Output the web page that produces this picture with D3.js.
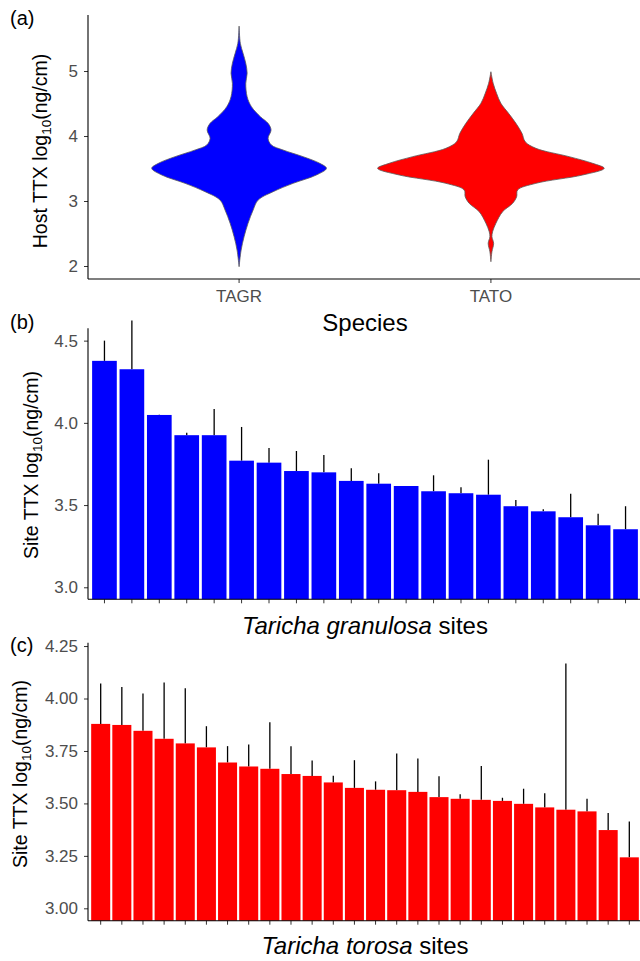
<!DOCTYPE html>
<html>
<head>
<meta charset="utf-8">
<script src="https://cdn.jsdelivr.net/npm/d3@7"></script>
<style>
body { margin: 0; background: #fff; }
svg { display: block; font-family: "Liberation Sans", Arial, Helvetica, sans-serif; }
.tick_label { fill: #4d4d4d; font-size: 17px; font-family: "Liberation Sans", Arial, Helvetica, sans-serif; }
.axis_title { fill: #000; font-size: 24px; }
.y_title { fill: #000; font-size: 19.5px; }
.panel_tag { fill: #000; font-size: 20px; }
</style>
</head>
<body>
<div id="canvas"></div>
<script>
// ----------------------------------------------------------
// DATA -----------------------------------------------------
// ----------------------------------------------------------
// (a) violin outlines: log10 TTX value and relative density
var species = ["TAGR", "TATO"];
var tagr_ttx = [5.692, 5.426, 5.272, 5.118, 4.965, 4.811, 4.605, 4.451, 4.297, 4.195, 4.092, 3.965, 3.862,
  3.785, 3.682, 3.580, 3.503, 3.400, 3.272, 3.143, 3.015, 2.862, 2.657, 2.451, 2.246, 1.989];
var tagr_density = [0, 0.011, 0.035, 0.059, 0.071, 0.059, 0.071, 0.109, 0.188, 0.256, 0.282, 0.256, 0.285,
  0.388, 0.565, 0.712, 0.771, 0.682, 0.477, 0.300, 0.168, 0.124, 0.079, 0.044, 0.018, 0];
var tato_ttx = [4.989, 4.811, 4.657, 4.503, 4.349, 4.195, 4.042, 3.912, 3.811, 3.682, 3.580, 3.503, 3.400,
  3.272, 3.169, 3.066, 2.965, 2.835, 2.657, 2.528, 2.451, 2.349, 2.220, 2.066];
var tato_density = [0, 0.020, 0.050, 0.088, 0.156, 0.221, 0.274, 0.303, 0.397, 0.691, 0.898, 1.0, 0.809,
  0.397, 0.236, 0.227, 0.192, 0.103, 0.044, 0.015, 0.009, 0.024, 0.009, 0];

// (b) Taricha granulosa sites: mean and upper error
var tagr_site_mean = [4.377, 4.326, 4.048, 3.925, 3.925, 3.770, 3.758, 3.707, 3.699, 3.647,
  3.630, 3.616, 3.584, 3.572, 3.563, 3.493, 3.462, 3.426, 3.377, 3.353];
var tagr_site_upper = [4.500, 4.622, 4.050, 3.940, 4.085, 3.975, 3.847, 3.829, 3.805, 3.724,
  3.693, 3.616, 3.681, 3.608, 3.776, 3.531, 3.474, 3.569, 3.448, 3.493];

// (c) Taricha torosa sites: mean and upper error
var tato_site_mean = [3.879, 3.874, 3.846, 3.808, 3.786, 3.767, 3.695, 3.676, 3.665, 3.640,
  3.631, 3.600, 3.574, 3.565, 3.563, 3.555, 3.530, 3.522, 3.517, 3.512,
  3.498, 3.481, 3.470, 3.462, 3.373, 3.243];
var tato_site_upper = [4.071, 4.055, 4.024, 4.076, 4.049, 3.868, 3.773, 3.781, 3.887, 3.773,
  3.705, 3.632, 3.706, 3.605, 3.738, 3.714, 3.629, 3.544, 3.678, 3.527,
  3.570, 3.548, 4.167, 3.522, 3.454, 3.414];

// tick labels
var ticks_a = [2, 3, 4, 5];
var ticks_b = [3.0, 3.5, 4.0, 4.5];
var ticks_c = [3.00, 3.25, 3.50, 3.75, 4.00, 4.25];

// ----------------------------------------------------------
// SETTINGS -------------------------------------------------
// ----------------------------------------------------------
var settings = {
  width: 640,
  height: 961,
  left: 88,
  right: 642,
  color_tagr: "#0000ff",
  color_tato: "#ff0000",
  color_axis: "#000000",
  color_tick: "#333333",
  color_outline: "#5a5a5a"
};

var svg = d3.select("#canvas").append("svg")
.attr("width", settings.width)
.attr("height", settings.height);

// ----------------------------------------------------------
// HELPERS --------------------------------------------------
// ----------------------------------------------------------
function drawYAxis(g, y, ticks, fmt) {
  var axis = d3.axisLeft(y).tickValues(ticks).tickSize(4).tickPadding(6).tickFormat(fmt);
  var ax = g.append("g").attr("transform", "translate(" + settings.left + ",0)").call(axis)
  .attr("font-family", null).attr("font-size", null);
  ax.select(".domain").remove();
  ax.selectAll(".tick line").attr("stroke", settings.color_tick).attr("stroke-width", 1);
  ax.selectAll(".tick text").attr("class", "tick_label");
  var r = y.range();
  g.append("line")
  .attr("x1", settings.left).attr("x2", settings.left)
  .attr("y1", r[0]).attr("y2", r[1])
  .attr("stroke", settings.color_axis).attr("stroke-width", 1.1);
}

function drawXAxis(g, x, yPos, showLabels) {
  var axis = d3.axisBottom(x).tickSize(4).tickPadding(7);
  if (!showLabels) axis.tickFormat("");
  var ax = g.append("g").attr("transform", "translate(0," + yPos + ")").call(axis)
  .attr("font-family", null).attr("font-size", null);
  ax.select(".domain").remove();
  ax.selectAll(".tick line").attr("stroke", settings.color_tick).attr("stroke-width", 1);
  ax.selectAll(".tick text").attr("class", "tick_label");
  g.append("line")
  .attr("x1", settings.left).attr("x2", settings.right)
  .attr("y1", yPos).attr("y2", yPos)
  .attr("stroke", settings.color_axis).attr("stroke-width", 1.1);
}

function yTitle(g, lead, xBase, yMid) {
  var t = g.append("text")
  .attr("class", "y_title")
  .attr("text-anchor", "middle")
  .attr("transform", "translate(" + xBase + "," + yMid + ") rotate(-90)");
  t.append("tspan").text(lead + " log");
  t.append("tspan").attr("font-size", "13.5px").attr("dy", 4).text("10");
  t.append("tspan").attr("dy", -4).text("(ng/cm)");
}

function bandScale(domain) {
  return d3.scaleBand().domain(domain)
  .range([settings.left, settings.right])
  .paddingInner(0.1).paddingOuter(0.15);
}

// ----------------------------------------------------------
// PANEL (a) - VIOLINS --------------------------------------
// ----------------------------------------------------------
var g_a = svg.append("g").attr("class", "panel_a");
var y_a = d3.scaleLinear().domain([1.8, 5.862]).range([279, 15]);
var x_a = bandScale(species);
var w_a = d3.scaleLinear().domain([0, 1]).range([0, x_a.bandwidth() / 2]);

var violins = [
  { name: "TAGR", ttx: tagr_ttx, dens: tagr_density, color: settings.color_tagr },
  { name: "TATO", ttx: tato_ttx, dens: tato_density, color: settings.color_tato }
];

violins.forEach(function(v) {
  var cx = x_a(v.name) + x_a.bandwidth() / 2;
  var pts = v.ttx.map(function(t, i) { return { t: t, d: v.dens[i] }; });
  var area = d3.area()
  .y(function(d) { return y_a(d.t); })
  .x0(function(d) { return cx - w_a(d.d); })
  .x1(function(d) { return cx + w_a(d.d); })
  .curve(d3.curveCatmullRom.alpha(0.5));
  g_a.append("path")
  .attr("d", area(pts))
  .attr("fill", v.color)
  .attr("stroke", settings.color_outline)
  .attr("stroke-width", 0.8);
});

drawYAxis(g_a, y_a, ticks_a, d3.format("d"));
drawXAxis(g_a, x_a, 279, true);
yTitle(g_a, "Host TTX", 47, 151);

g_a.append("text").attr("class", "axis_title").attr("text-anchor", "middle")
.attr("x", (settings.left + settings.right) / 2).attr("y", 331).text("Species");
g_a.append("text").attr("class", "panel_tag").attr("x", 10).attr("y", 25).text("(a)");

// ----------------------------------------------------------
// BAR PANELS -----------------------------------------------
// ----------------------------------------------------------
function barPanel(cfg) {
  var g = svg.append("g").attr("class", cfg.cls);
  var ids = cfg.mean.map(function(d, i) { return cfg.cls + "_" + i; });
  var x = bandScale(ids);
  var y = d3.scaleLinear().domain(cfg.domain).range(cfg.range);
  var rows = cfg.mean.map(function(m, i) { return { id: ids[i], mean: m, upper: cfg.upper[i] }; });

  // error bars (upper only)
  g.selectAll(".err").data(rows).enter().append("line")
  .attr("class", "err")
  .attr("x1", function(d) { return x(d.id) + x.bandwidth() / 2; })
  .attr("x2", function(d) { return x(d.id) + x.bandwidth() / 2; })
  .attr("y1", function(d) { return y(d.upper); })
  .attr("y2", function(d) { return y(d.mean); })
  .attr("stroke", "#000").attr("stroke-width", 1.3);

  g.selectAll(".bar").data(rows).enter().append("rect")
  .attr("class", "bar")
  .attr("x", function(d) { return x(d.id); })
  .attr("width", x.bandwidth())
  .attr("y", function(d) { return y(d.mean); })
  .attr("height", function(d) { return cfg.range[0] - y(d.mean); })
  .attr("fill", cfg.color);

  drawYAxis(g, y, cfg.ticks, cfg.fmt);
  drawXAxis(g, x, cfg.range[0], false);
  yTitle(g, "Site TTX", cfg.titleX, cfg.titleY);

  var t = g.append("text").attr("class", "axis_title").attr("text-anchor", "middle")
  .attr("x", (settings.left + settings.right) / 2).attr("y", cfg.xTitleY);
  t.append("tspan").attr("font-style", "italic").text(cfg.taxon);
  t.append("tspan").text(" sites");

  g.append("text").attr("class", "panel_tag").attr("x", 10).attr("y", cfg.tagY).text(cfg.tag);
}

barPanel({
  cls: "panel_b", mean: tagr_site_mean, upper: tagr_site_upper,
  domain: [2.927, 4.575], range: [599.3, 328.3], ticks: ticks_b, fmt: d3.format(".1f"),
  color: settings.color_tagr, titleX: 37.5, titleY: 465,
  taxon: "Taricha granulosa", xTitleY: 634, tag: "(b)", tagY: 329
});

barPanel({
  cls: "panel_c", mean: tato_site_mean, upper: tato_site_upper,
  domain: [2.941, 4.266], range: [920.7, 642.7], ticks: ticks_c, fmt: d3.format(".2f"),
  color: settings.color_tato, titleX: 26.7, titleY: 774,
  taxon: "Taricha torosa", xTitleY: 954, tag: "(c)", tagY: 652
});
</script>
</body>
</html>
